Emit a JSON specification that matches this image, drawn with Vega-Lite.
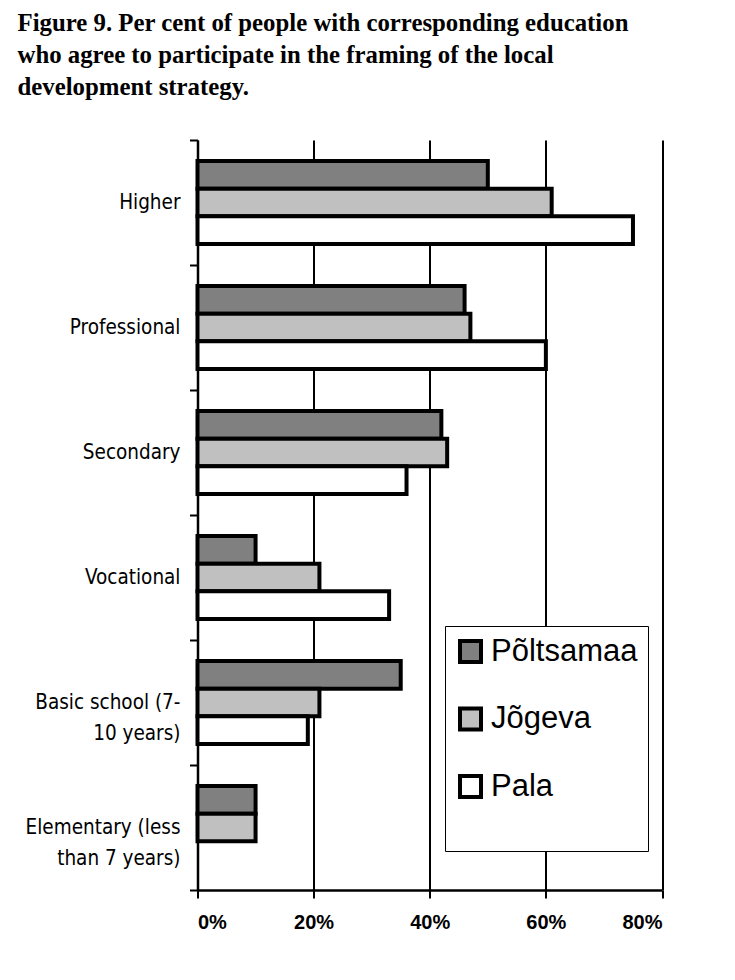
{
  "$schema": "https://vega.github.io/schema/vega-lite/v6.json",
  "width": 464.5,
  "height": 750,
  "autosize": "none",
  "padding": {"left": 197.5, "top": 140, "right": 73, "bottom": 90},
  "background": "white",
  "title": {
    "text": ["Figure 9. Per cent of people with corresponding education", "who agree to participate in the framing of the local", "development strategy."],
    "anchor": "start",
    "frame": "group",
    "orient": "top",
    "offset": 30,
    "dx": -180,
    "font": "Liberation Serif",
    "fontSize": 24.8,
    "fontWeight": "bold",
    "color": "black",
    "lineHeight": 32
  },
  "data": {
    "values": [
      {"education": "Higher", "town": "Põltsamaa", "pct": 0.50},
      {"education": "Higher", "town": "Jõgeva", "pct": 0.61},
      {"education": "Higher", "town": "Pala", "pct": 0.75},
      {"education": "Professional", "town": "Põltsamaa", "pct": 0.46},
      {"education": "Professional", "town": "Jõgeva", "pct": 0.47},
      {"education": "Professional", "town": "Pala", "pct": 0.60},
      {"education": "Secondary", "town": "Põltsamaa", "pct": 0.42},
      {"education": "Secondary", "town": "Jõgeva", "pct": 0.43},
      {"education": "Secondary", "town": "Pala", "pct": 0.36},
      {"education": "Vocational", "town": "Põltsamaa", "pct": 0.10},
      {"education": "Vocational", "town": "Jõgeva", "pct": 0.21},
      {"education": "Vocational", "town": "Pala", "pct": 0.33},
      {"education": "Basic school (7-10 years)", "town": "Põltsamaa", "pct": 0.35},
      {"education": "Basic school (7-10 years)", "town": "Jõgeva", "pct": 0.21},
      {"education": "Basic school (7-10 years)", "town": "Pala", "pct": 0.19},
      {"education": "Elementary (less than 7 years)", "town": "Põltsamaa", "pct": 0.10},
      {"education": "Elementary (less than 7 years)", "town": "Jõgeva", "pct": 0.10}
    ]
  },
  "mark": {"type": "bar", "stroke": "black", "strokeWidth": 4},
  "encoding": {
    "y": {
      "field": "education",
      "type": "nominal",
      "sort": ["Higher", "Professional", "Secondary", "Vocational", "Basic school (7-10 years)", "Elementary (less than 7 years)"],
      "scale": {"paddingInner": 0, "paddingOuter": 0},
      "axis": {
        "title": null,
        "domainColor": "black",
        "domainWidth": 2.5,
        "tickColor": "black",
        "tickWidth": 2,
        "tickSize": 8,
        "tickBand": "extent",
        "grid": false,
        "labelFont": "Liberation Sans Narrow, DejaVu Sans Condensed, sans-serif",
        "labelFontSize": 20.5,
        "labelColor": "black",
        "labelLimit": 300,
        "labelLineHeight": 31,
        "labelPadding": 9.5,
        "labelExpr": "datum.value == 'Basic school (7-10 years)' ? ['Basic school (7-', '10 years)'] : datum.value == 'Elementary (less than 7 years)' ? ['Elementary (less', 'than 7 years)'] : datum.label"
      }
    },
    "yOffset": {
      "field": "town",
      "type": "nominal",
      "sort": ["Põltsamaa", "Jõgeva", "Pala"],
      "scale": {"domain": ["Põltsamaa", "Jõgeva", "Pala"], "paddingInner": 0, "paddingOuter": 0.756}
    },
    "x": {
      "field": "pct",
      "type": "quantitative",
      "scale": {"domain": [0, 0.8], "nice": false, "zero": true},
      "axis": {
        "title": null,
        "values": [0, 0.2, 0.4, 0.6, 0.8],
        "format": ".0%",
        "domainColor": "black",
        "domainWidth": 2.5,
        "tickColor": "black",
        "tickWidth": 2,
        "tickSize": 8,
        "grid": true,
        "gridColor": "black",
        "gridWidth": 2,
        "labelFont": "Liberation Sans",
        "labelFontWeight": "bold",
        "labelFontSize": 20,
        "labelColor": "black",
        "labelPadding": 14
      }
    },
    "fill": {
      "field": "town",
      "type": "nominal",
      "scale": {"domain": ["Põltsamaa", "Jõgeva", "Pala"], "range": ["#808080", "#c0c0c0", "#ffffff"]},
      "legend": {
        "orient": "none",
        "legendX": 247.5,
        "legendY": 486,
        "title": " ",
        "titleOrient": "bottom",
        "titleFontSize": 26,
        "titlePadding": 10,
        "direction": "vertical",
        "symbolType": "square",
        "symbolSize": 441,
        "symbolStrokeWidth": 4,
        "symbolStrokeColor": "black",
        "labelFont": "Liberation Sans",
        "labelFontSize": 31,
        "labelColor": "black",
        "labelOffset": 5,
        "labelLimit": 300,
        "rowPadding": 30.5,
        "padding": 10,
        "strokeColor": "black",
        "fillColor": "white"
      }
    }
  },
  "config": {
    "view": {"stroke": null}
  }
}
